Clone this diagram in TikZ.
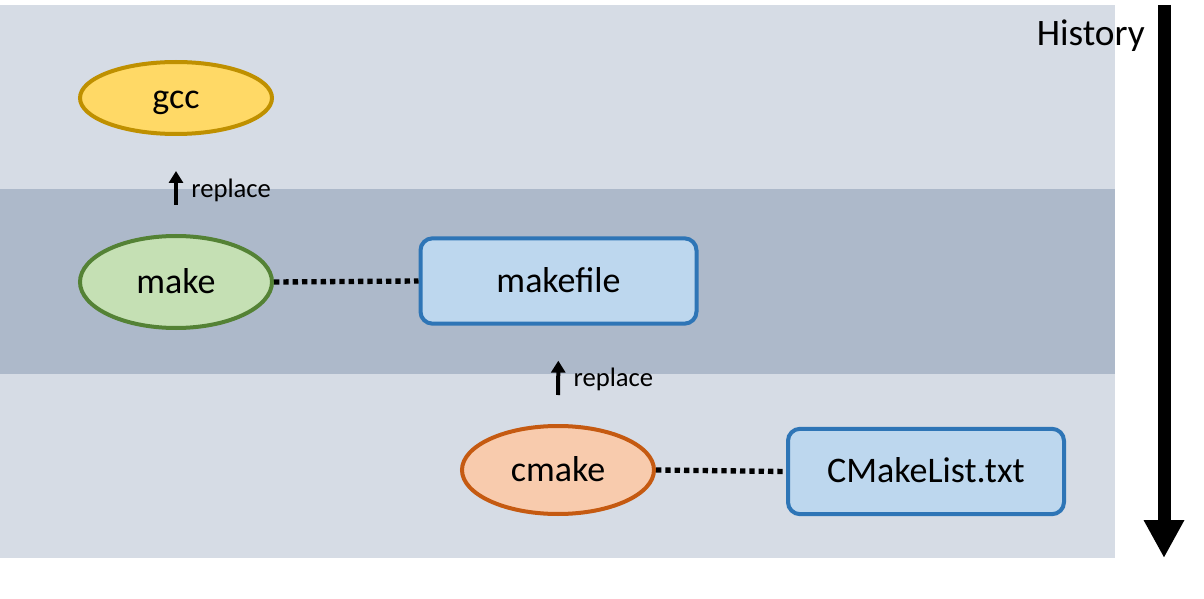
\documentclass[tikz,border=0pt]{standalone}
\usepackage{fontspec}
\setmainfont{Carlito}
\usetikzlibrary{shapes.geometric,arrows.meta}
\definecolor{bandLight}{RGB}{214,220,229}
\definecolor{bandDark}{RGB}{173,185,202}
\definecolor{gccFill}{RGB}{255,217,102}
\definecolor{gccLine}{RGB}{191,144,0}
\definecolor{makeFill}{RGB}{197,224,180}
\definecolor{makeLine}{RGB}{84,130,53}
\definecolor{cmakeFill}{RGB}{248,203,173}
\definecolor{cmakeLine}{RGB}{197,90,17}
\definecolor{fileFill}{RGB}{189,215,238}
\definecolor{fileLine}{RGB}{46,117,182}
\begin{document}
\begin{tikzpicture}
% build tool history, laid out in pixel units
\def\pxsz{0.75pt}
\tikzset{
  bigtext/.style={font=\fontsize{27}{32}\selectfont, text height=22pt, text depth=5.5pt},
  tool/.style={ellipse, line width=3pt, minimum width=144pt, inner sep=0pt, bigtext},
  buildfile/.style={rectangle, rounded corners=9pt, line width=3pt, draw=fileLine, fill=fileFill,
    minimum width=207pt, minimum height=64pt, inner sep=0pt, bigtext},
  link/.style={line width=4pt, dash pattern=on 4pt off 3pt},
  replarrow/.style={line width=3pt, -{Triangle[length=9pt,width=10.5pt]}, shorten <=21.75pt, shorten >=26.25pt},
  repllabel/.style={font=\fontsize{20}{24}\selectfont, inner sep=0pt}
}
\begin{scope}[x=\pxsz, y=-\pxsz]
  \useasboundingbox (0,0) rectangle (1204,599);
  % Bands
  \fill[bandLight] (0,5) rectangle (1115,189);
  \fill[bandDark] (0,189) rectangle (1115,374);
  \fill[bandLight] (0,374) rectangle (1115,558);
  % Tools
  \node[tool, draw=gccLine, fill=gccFill, minimum height=54pt] (gcc) at (176,98) {gcc};
  \node[tool, draw=makeLine, fill=makeFill, minimum height=69pt] (make) at (176,282) {make};
  \node[tool, draw=cmakeLine, fill=cmakeFill, minimum height=66pt] (cmake) at (558,470) {cmake};
  % Build files
  \node[buildfile] (makefile) at (558.5,281) {makefile};
  \node[buildfile] (cmakelist) at (926,471.5) {CMakeList.txt};
  % Links
  \draw[link] (make.east) -- (makefile.west);
  \draw[link] (cmake.east) -- (cmakelist.west);
  % Replacements
  \draw[replarrow] (make.north) -- node[repllabel, pos=0.45, right=10pt] {replace} (gcc.south);
  \draw[replarrow] (cmake.north) -- node[repllabel, pos=0.45, right=10pt] {replace} (makefile.south);
  % History
  \coordinate (histtop) at (1164,5);
  \coordinate (histbot) at (1164,558);
  \draw[line width=9.75pt, -{Triangle[length=28.5pt,width=28.5pt]}] (histtop) -- (histbot);
  \node[anchor=east, inner sep=0pt, font=\fontsize{28}{32}\selectfont] (histlabel) at (1145,36) {History};
\end{scope}
\end{tikzpicture}
\end{document}
